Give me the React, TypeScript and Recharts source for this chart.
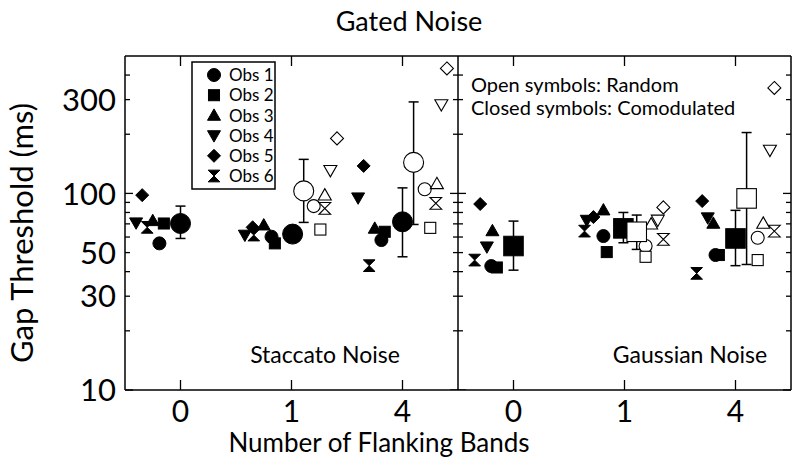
import React from 'react';
import { ScatterChart, Scatter, XAxis, YAxis, ErrorBar, ReferenceLine, Label } from 'recharts';

const FONT = 'Lato, "Open Sans", sans-serif';

// x axis: number of flanking bands, left panel staccato, right panel gaussian
const bandLabels = ['0', '1', '4', '0', '1', '4'];
const bandPositions = [0.5, 1.5, 2.5, 3.5, 4.5, 5.5];

const yTickValues = [10, 20, 30, 40, 50, 60, 70, 80, 90, 100, 200, 300, 400];
const yTickLabels = [10, 30, 50, 100, 300];
const yMajorTicks = [10, 100];

const obsNames = ['Obs 1', 'Obs 2', 'Obs 3', 'Obs 4', 'Obs 5', 'Obs 6'];

// comodulated flanking bands (closed symbols): [x, gap threshold ms]
const obs1Comod = [[0.31, 55.7], [1.32, 60.2], [2.31, 57.9], [3.30, 42.7], [4.31, 60.7], [5.32, 48.6]];
const obs2Comod = [[0.35, 70.3], [1.35, 55.7], [2.34, 63.8], [3.35, 42], [4.34, 50.3], [5.35, 48.6]];
const obs3Comod = [[0.25, 72.6], [1.25, 69], [2.25, 66.4], [3.31, 64.5], [4.31, 82.3], [5.30, 70.4]];
const obs4Comod = [[0.10, 70.9], [1.08, 61.4], [2.10, 95], [3.26, 53.5], [4.16, 73.1], [5.25, 75.2]];
const obs5Comod = [[0.155, 98], [1.15, 67.2], [2.15, 138], [3.20, 88.3], [4.22, 75.8], [5.20, 91.4]];
const obs6Comod = [[0.20, 67.2], [1.16, 61.4], [2.20, 42.9], [3.15, 45.8], [4.14, 64.3], [5.15, 39.2]];

// random flanking bands (open symbols), none for 0 bands
const obs1Random = [[1.70, 86.2], [2.70, 105], [4.69, 54], [5.70, 59.5]];
const obs2Random = [[1.76, 65.5], [2.75, 66.8], [4.69, 47.6], [5.70, 45.8]];
const obs3Random = [[1.80, 98], [2.81, 112], [4.74, 69.8], [5.75, 70.4]];
const obs4Random = [[1.85, 131], [2.85, 283], [4.80, 73.2], [5.81, 166]];
const obs5Random = [[1.91, 190.5], [2.90, 432], [4.85, 84.9], [5.85, 344]];
const obs6Random = [[1.80, 83.9], [2.80, 89], [4.85, 58.4], [5.85, 64.3]];

// group means: [x, mean, low, high]
const staccatoComodMean = [[0.5, 70.3, 59, 86.2], [1.51, 62.1, 62.1, 62.1], [2.5, 71.7, 47.6, 106.7]];
const staccatoRandomMean = [[1.61, 103, 71.2, 149], [2.6, 143.8, 69.5, 292]];
const gaussianComodMean = [[3.5, 54, 40.7, 72.3], [4.49, 66.4, 56.1, 80], [5.5, 59, 42.9, 82]];
const gaussianRandomMean = [[4.61, 63.8, 51.9, 77.6], [5.6, 94.3, 43.5, 204]];

type Kind = 'circle' | 'square' | 'up' | 'down' | 'diamond' | 'hourglass';
const obsKinds: Kind[] = ['circle', 'square', 'up', 'down', 'diamond', 'hourglass'];
const obsComod = [obs1Comod, obs2Comod, obs3Comod, obs4Comod, obs5Comod, obs6Comod];
const obsRandom = [obs1Random, obs2Random, obs3Random, obs4Random, obs5Random, obs6Random];

const toPoints = (rows: number[][]) => rows.map(([x, y]) => ({ x, y }));
const toMeans = (rows: number[][]) => rows.map(([x, y, lo, hi]) => ({ x, y, err: [y - lo, hi - y] }));

const Marker = ({ kind, cx, cy, r, open }: { kind: Kind; cx: number; cy: number; r: number; open: boolean }) => {
  const style = { fill: open ? '#fff' : '#000', stroke: '#000', strokeWidth: open ? 1.1 : 1 };
  switch (kind) {
    case 'circle':
      return <circle cx={cx} cy={cy} r={r} {...style} />;
    case 'square':
      return <rect x={cx - r * 0.85} y={cy - r * 0.85} width={r * 1.7} height={r * 1.7} {...style} />;
    case 'up':
      return <polygon points={`${cx},${cy - r} ${cx + r},${cy + r * 0.75} ${cx - r},${cy + r * 0.75}`} {...style} />;
    case 'down':
      return <polygon points={`${cx},${cy + r} ${cx + r},${cy - r * 0.75} ${cx - r},${cy - r * 0.75}`} {...style} />;
    case 'diamond':
      return <polygon points={`${cx},${cy - r} ${cx + r},${cy} ${cx},${cy + r} ${cx - r},${cy}`} {...style} />;
    default:
      return (
        <path
          d={`M${cx - r * 0.9},${cy - r * 0.9} L${cx + r * 0.9},${cy - r * 0.9} L${cx - r * 0.9},${cy + r * 0.9} L${cx + r * 0.9},${cy + r * 0.9} Z`}
          {...style}
          strokeLinejoin="miter"
        />
      );
  }
};

const markerShape = (kind: Kind, open: boolean, r: number) => (p: any) =>
  <Marker kind={kind} cx={p.cx} cy={p.cy} r={r} open={open} />;

const LeftTick = (props: any) => {
  const { x, y, payload } = props;
  const v = payload.value;
  const ax = x + 9;
  const len = yMajorTicks.includes(v) ? 8 : 5;
  return (
    <g>
      <line x1={ax} x2={ax + len} y1={y} y2={y} stroke="#000" strokeWidth={1.3} />
      {yTickLabels.includes(v) && (
        <text x={x} y={y} dy="0.36em" textAnchor="end" fontSize={31} fontFamily={FONT} fill="#000">
          {v}
        </text>
      )}
    </g>
  );
};

const RightTick = (props: any) => {
  const { x, y, payload } = props;
  const len = yMajorTicks.includes(payload.value) ? 8 : 5;
  return <line x1={x} x2={x - len} y1={y} y2={y} stroke="#000" strokeWidth={1.3} />;
};

const TopTick = (props: any) => {
  const { x, y } = props;
  return <line x1={x} x2={x} y1={y} y2={y + 10} stroke="#000" strokeWidth={1.3} />;
};

const BottomTick = (props: any) => {
  const { x, y, index } = props;
  return (
    <g>
      <line x1={x} x2={x} y1={y - 10} y2={y - 20} stroke="#000" strokeWidth={1.3} />
      <text x={x} y={y} dy="0.72em" textAnchor="middle" fontSize={30} fontFamily={FONT} fill="#000">
        {bandLabels[index]}
      </text>
    </g>
  );
};

const DividerTick = (p: any) => {
  const len = yMajorTicks.includes(p.payload?.y) ? 8 : 5;
  return <line x1={p.cx - len} x2={p.cx + len} y1={p.cy} y2={p.cy} stroke="#000" strokeWidth={1.3} />;
};

const Overlay = () => (
  <svg width={800} height={472} style={{ position: 'absolute', left: 0, top: 0, pointerEvents: 'none' }}>
    <rect x={192} y={62} width={83} height={127} fill="#fff" stroke="#000" strokeWidth={1.5} />
    {obsNames.map((name, i) => {
      const cy = 75 + i * 20.2;
      return (
        <g key={name}>
          <Marker kind={obsKinds[i]} cx={214} cy={cy} r={6.5} open={false} />
          <text x={229} y={cy} dy="0.36em" fontSize={17} fontFamily={FONT}>
            {name}
          </text>
        </g>
      );
    })}
    <text x={471} y={92} fontSize={20} fontFamily={FONT}>Open symbols: Random</text>
    <text x={471} y={115} fontSize={20} fontFamily={FONT}>Closed symbols: Comodulated</text>
    <text x={325} y={363} textAnchor="middle" fontSize={23} fontFamily={FONT}>Staccato Noise</text>
    <text x={690} y={363} textAnchor="middle" fontSize={23} fontFamily={FONT}>Gaussian Noise</text>
  </svg>
);

export default function App() {
  return (
    <div style={{ position: 'absolute', left: 0, top: 0, width: 800, height: 472, background: '#fff' }}>
      <ScatterChart width={800} height={472} margin={{ top: 55, right: 0, bottom: 0, left: 0 }}>
        <XAxis
          xAxisId="x"
          dataKey="x"
          type="number"
          domain={[0, 6]}
          ticks={bandPositions}
          interval={0}
          allowDataOverflow
          height={82}
          tickSize={0}
          tickMargin={10}
          tickLine={false}
          tick={<BottomTick />}
          axisLine={{ stroke: '#000', strokeWidth: 1.5 }}
        >
          <Label
            content={() => (
              <text x={379} y={452} textAnchor="middle" fontSize={26} fontFamily={FONT} fill="#000">
                Number of Flanking Bands
              </text>
            )}
          />
        </XAxis>
        <XAxis
          xAxisId="top"
          dataKey="x"
          orientation="top"
          type="number"
          domain={[0, 6]}
          ticks={bandPositions}
          interval={0}
          allowDataOverflow
          height={1}
          tickSize={0}
          tickMargin={0}
          tickLine={false}
          tick={<TopTick />}
          axisLine={{ stroke: '#000', strokeWidth: 1.5 }}
        >
          <Label
            content={() => (
              <text x={409} y={31} textAnchor="middle" fontSize={27} fontFamily={FONT} fill="#000">
                Gated Noise
              </text>
            )}
          />
        </XAxis>
        <YAxis
          yAxisId="y"
          dataKey="y"
          type="number"
          scale="log"
          domain={[10, 500]}
          ticks={yTickValues}
          interval={0}
          allowDataOverflow
          width={125}
          tickSize={0}
          tickMargin={9}
          tickLine={false}
          tick={<LeftTick />}
          axisLine={{ stroke: '#000', strokeWidth: 1.5 }}
        >
          <Label
            content={() => (
              <text
                transform="translate(22,233) rotate(-90)"
                textAnchor="middle"
                dy="0.36em"
                fontSize={31}
                fontFamily={FONT}
                fill="#000"
              >
                Gap Threshold (ms)
              </text>
            )}
          />
        </YAxis>
        <YAxis
          yAxisId="yr"
          dataKey="y"
          orientation="right"
          type="number"
          scale="log"
          domain={[10, 500]}
          ticks={yTickValues}
          interval={0}
          allowDataOverflow
          width={9}
          tickSize={0}
          tickMargin={0}
          tickLine={false}
          tick={<RightTick />}
          axisLine={{ stroke: '#000', strokeWidth: 1.5 }}
        />
        <ReferenceLine xAxisId="x" yAxisId="y" x={3} stroke="#000" strokeWidth={1.5} />
        <Scatter
          xAxisId="x"
          yAxisId="y"
          data={yTickValues.map((v) => ({ x: 3, y: v }))}
          shape={DividerTick}
          isAnimationActive={false}
        />
        {obsComod.map((rows, i) => (
          <Scatter
            key={`comod-${i}`}
            xAxisId="x"
            yAxisId="y"
            data={toPoints(rows)}
            shape={markerShape(obsKinds[i], false, 6.5)}
            isAnimationActive={false}
          />
        ))}
        {obsRandom.map((rows, i) => (
          <Scatter
            key={`random-${i}`}
            xAxisId="x"
            yAxisId="y"
            data={toPoints(rows)}
            shape={markerShape(obsKinds[i], true, 6.5)}
            isAnimationActive={false}
          />
        ))}
        <Scatter xAxisId="x" yAxisId="y" data={toMeans(staccatoComodMean)} shape={markerShape('circle', false, 10)} isAnimationActive={false}>
          <ErrorBar dataKey="err" direction="y" width={5} stroke="#000" strokeWidth={1.5} />
        </Scatter>
        <Scatter xAxisId="x" yAxisId="y" data={toMeans(gaussianComodMean)} shape={markerShape('square', false, 11.5)} isAnimationActive={false}>
          <ErrorBar dataKey="err" direction="y" width={5} stroke="#000" strokeWidth={1.5} />
        </Scatter>
        <Scatter xAxisId="x" yAxisId="y" data={toMeans(staccatoRandomMean)} shape={markerShape('circle', true, 10)} isAnimationActive={false}>
          <ErrorBar dataKey="err" direction="y" width={5} stroke="#000" strokeWidth={1.5} />
        </Scatter>
        <Scatter xAxisId="x" yAxisId="y" data={toMeans(gaussianRandomMean)} shape={markerShape('square', true, 11.5)} isAnimationActive={false}>
          <ErrorBar dataKey="err" direction="y" width={5} stroke="#000" strokeWidth={1.5} />
        </Scatter>
      </ScatterChart>
      <Overlay />
    </div>
  );
}
